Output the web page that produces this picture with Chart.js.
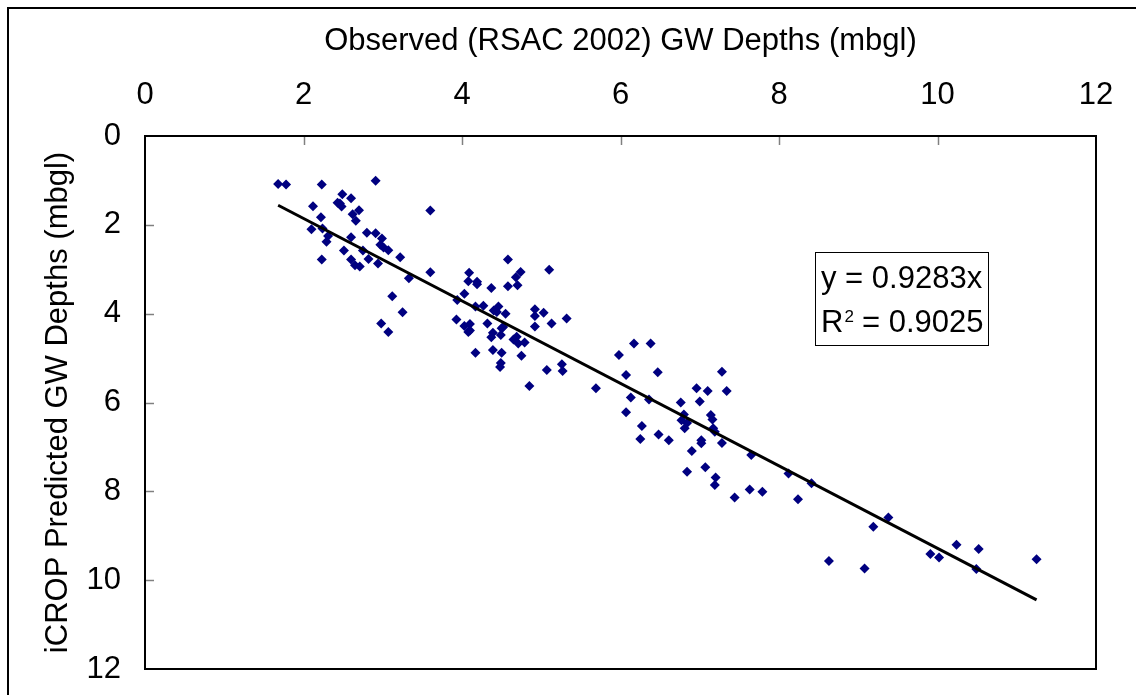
<!DOCTYPE html>
<html>
<head>
<meta charset="utf-8">
<script src="https://cdn.jsdelivr.net/npm/chart.js@4.4.1/dist/chart.umd.min.js"></script>
<style>
  html, body { margin: 0; padding: 0; background: #ffffff; }
  #wrap { width: 1136px; height: 695px; position: relative; }
</style>
</head>
<body>
<div id="wrap"><canvas id="c" width="1136" height="695"></canvas></div>
<script>
// Observed (RSAC 2002) GW depths (x) and iCROP predicted GW depths (y), mbgl
const observed = [
  1.68, 1.78, 2.23, 2.91, 2.49, 2.60, 2.43, 2.46, 2.48, 2.12,
  2.62, 2.70, 2.66, 2.22, 3.60, 2.10, 2.24, 2.31, 2.29, 2.60,
  2.80, 2.91, 2.99, 2.97, 3.01, 3.07, 2.51, 2.75, 3.22, 2.23,
  2.60, 2.65, 2.71, 2.82, 2.94, 3.33, 3.60, 3.12, 3.25, 2.98,
  3.07, 4.09, 4.08, 4.19, 4.19, 4.58, 4.37, 4.58, 4.03, 3.94,
  4.17, 4.27, 4.40, 4.46, 4.44, 4.55, 3.93, 4.03, 4.10, 4.08,
  4.10, 4.32, 4.39, 4.37, 4.50, 4.52, 4.49, 4.17, 4.39, 4.50,
  4.74, 5.10, 4.68, 4.70, 4.92, 5.03, 4.92, 5.32, 5.13, 4.92,
  4.65, 4.69, 4.71, 4.79, 4.75, 4.49, 4.48, 5.07, 5.26, 5.27,
  4.85, 5.69, 6.17, 6.38, 5.98, 6.07, 6.47, 6.13, 6.36, 7.28,
  6.96, 7.10, 7.34, 6.76, 7.00, 6.07, 6.80, 6.77, 6.84, 6.81,
  7.14, 7.16, 7.17, 7.19, 6.27, 6.48, 6.61, 6.25, 7.02, 7.02,
  7.28, 6.90, 7.65, 6.84, 7.07, 7.20, 7.19, 7.44, 7.63, 7.79,
  8.12, 8.41, 8.24, 9.38, 9.19, 8.63, 9.08, 9.91, 10.02, 10.24,
  10.52, 10.49, 11.25
];
const predicted = [
  1.08, 1.09, 1.09, 1.01, 1.31, 1.40, 1.50, 1.52, 1.59, 1.58,
  1.76, 1.67, 1.91, 1.83, 1.68, 2.10, 2.08, 2.25, 2.38, 2.28,
  2.18, 2.19, 2.31, 2.45, 2.51, 2.57, 2.58, 2.58, 2.73, 2.78,
  2.78, 2.91, 2.94, 2.77, 2.87, 3.20, 3.07, 3.61, 3.97, 4.22,
  4.41, 3.08, 3.27, 3.28, 3.34, 2.78, 3.42, 3.38, 3.55, 3.69,
  3.84, 3.82, 3.93, 3.84, 3.96, 4.00, 4.13, 4.28, 4.23, 4.41,
  4.38, 4.22, 4.43, 4.53, 4.33, 4.30, 4.48, 4.88, 4.82, 4.88,
  3.06, 3.01, 3.18, 3.36, 3.90, 3.98, 4.05, 4.11, 4.22, 4.29,
  4.58, 4.52, 4.67, 4.65, 4.95, 5.11, 5.20, 5.27, 5.14, 5.29,
  5.63, 5.68, 4.67, 4.67, 4.93, 5.38, 5.32, 5.89, 5.93, 5.31,
  5.68, 5.74, 5.74, 6.00, 5.98, 6.22, 6.27, 6.40, 6.46, 6.58,
  6.28, 6.38, 6.58, 6.66, 6.53, 6.72, 6.85, 6.82, 6.85, 6.92,
  6.91, 7.09, 7.18, 7.56, 7.46, 7.69, 7.86, 8.14, 7.96, 8.01,
  7.60, 7.82, 8.18, 8.59, 8.80, 9.57, 9.74, 9.41, 9.49, 9.20,
  9.30, 9.75, 9.53
];
const xTickValues = [0, 2, 4, 6, 8, 10, 12];
const yTickValues = [0, 2, 4, 6, 8, 10, 12];
const trendSlope = 0.9283;
const trendRSquared = 0.9025;
const trendXRange = [1.68, 11.25];
const xTitle = 'Observed (RSAC 2002) GW Depths (mbgl)';
const yTitle = 'iCROP Predicted GW Depths (mbgl)';

const FONT = '"Liberation Sans", Arial, sans-serif';
const FS = 31;

const scatterPts = observed.map((x, i) => ({ x: x, y: predicted[i] }));
const trendPts = trendXRange.map(x => ({ x: x, y: trendSlope * x }));

const framePlugin = {
  id: 'frame',
  beforeDraw(chart) {
    const ctx = chart.ctx;
    ctx.save();
    ctx.fillStyle = '#ffffff';
    ctx.fillRect(0, 0, chart.width, chart.height);
    ctx.strokeStyle = '#000000';
    ctx.lineWidth = 2;
    ctx.beginPath();
    ctx.moveTo(8, chart.height + 2);
    ctx.lineTo(8, 8);
    ctx.lineTo(chart.width + 2, 8);
    ctx.stroke();
    ctx.restore();
  },
  afterDatasetsDraw(chart) {
    const ctx = chart.ctx;
    const a = chart.chartArea;
    const xs = chart.scales.x, ys = chart.scales.y;
    ctx.save();
    ctx.strokeStyle = '#808080';
    ctx.lineWidth = 1.5;
    xTickValues.forEach(v => {
      if (v === xs.min || v === xs.max) return;
      const px = Math.round(xs.getPixelForValue(v)) + 0.5;
      ctx.beginPath();
      ctx.moveTo(px, a.top);
      ctx.lineTo(px, a.top + 9);
      ctx.stroke();
    });
    yTickValues.forEach(v => {
      if (v === ys.min || v === ys.max) return;
      const py = Math.round(ys.getPixelForValue(v)) + 0.5;
      ctx.beginPath();
      ctx.moveTo(a.left, py);
      ctx.lineTo(a.left + 9, py);
      ctx.stroke();
    });
    ctx.strokeStyle = '#000000';
    ctx.lineWidth = 2;
    ctx.strokeRect(a.left, a.top, a.right - a.left, a.bottom - a.top);

    // trendline equation box
    const bx = Math.round(xs.getPixelForValue(8.455)), by = Math.round(ys.getPixelForValue(2.61));
    const bw = 173, bh = 93;
    ctx.fillStyle = '#ffffff';
    ctx.fillRect(bx, by, bw, bh);
    ctx.strokeStyle = '#000000';
    ctx.lineWidth = 1;
    ctx.strokeRect(bx + 0.5, by + 0.5, bw, bh);
    ctx.fillStyle = '#000000';
    ctx.font = FS + 'px ' + FONT;
    ctx.textBaseline = 'alphabetic';
    ctx.textAlign = 'left';
    ctx.fillText('y = ' + trendSlope.toFixed(4) + 'x', bx + 6, by + 36);
    ctx.fillText('R', bx + 6, by + 80);
    const rw = ctx.measureText('R').width;
    ctx.font = '17px ' + FONT;
    ctx.fillText('2', bx + 6 + rw + 1, by + 70);
    ctx.font = FS + 'px ' + FONT;
    ctx.fillText(' = ' + trendRSquared.toFixed(4), bx + 6 + rw + 10, by + 80);
    ctx.restore();
  }
};

new Chart(document.getElementById('c'), {
  type: 'scatter',
  data: {
    datasets: [
      {
        label: 'GW depths',
        data: scatterPts,
        pointStyle: 'rectRot',
        pointRadius: 5,
        pointHoverRadius: 5,
        backgroundColor: '#000080',
        borderColor: '#000080',
        borderWidth: 0,
        order: 2
      },
      {
        label: 'Linear trend',
        type: 'line',
        data: trendPts,
        showLine: true,
        borderColor: '#000000',
        borderWidth: 3,
        pointRadius: 0,
        fill: false,
        order: 1
      }
    ]
  },
  options: {
    responsive: false,
    animation: false,
    events: [],
    layout: { padding: { top: 0, left: 0, right: 40, bottom: 26 } },
    plugins: { legend: { display: false }, tooltip: { enabled: false } },
    scales: {
      x: {
        type: 'linear',
        position: 'top',
        min: 0, max: 12,
        afterBuildTicks(scale) { scale.ticks = xTickValues.map(v => ({ value: v })); },
        afterFit(scale) {
          scale.height = 136;
          scale.paddingLeft = 0; scale.paddingRight = 0; scale.paddingTop = 0; scale.paddingBottom = 0;
        },
        grid: { display: false, drawTicks: false },
        border: { display: false },
        ticks: { color: '#000000', font: { family: FONT, size: FS }, padding: 22, maxRotation: 0 },
        title: { display: true, text: xTitle, color: '#000000', font: { family: FONT, size: FS }, padding: { top: 23, bottom: 0 } }
      },
      y: {
        type: 'linear',
        position: 'left',
        reverse: true,
        min: 0, max: 12,
        afterBuildTicks(scale) { scale.ticks = yTickValues.map(v => ({ value: v })); },
        afterFit(scale) {
          scale.width = 145;
          scale.paddingLeft = 0; scale.paddingRight = 0; scale.paddingTop = 0; scale.paddingBottom = 0;
        },
        grid: { display: false, drawTicks: false },
        border: { display: false },
        ticks: { color: '#000000', font: { family: FONT, size: FS }, padding: 24 },
        title: { display: true, text: yTitle, color: '#000000', font: { family: FONT, size: FS }, padding: { top: 40, bottom: 0 } }
      }
    }
  },
  plugins: [framePlugin]
});
</script>
</body>
</html>
